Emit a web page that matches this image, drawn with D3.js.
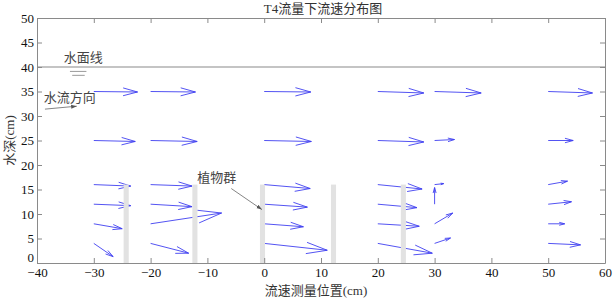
<!DOCTYPE html>
<html>
<head>
<meta charset="utf-8">
<script src="https://cdn.jsdelivr.net/npm/d3@7"></script>
<style>
  body { margin: 0; background: #fff; }
  text { font-family: "Liberation Serif", "Noto Sans CJK SC", serif; }
</style>
</head>
<body>
<div id="chart"></div>
<script>
// measuring stations (cm) and measuring depths (cm)
const stationX = [-30, -20, 0, 20, 30, 50];
const depthY = [35, 25, 16, 12, 8, 4];

// horizontal velocity component, one row per station, one value per depth
const velU = [
  [7.7, 7.3, 6.5, 6.5, 5.0, 3.4],
  [7.9, 8.2, 7.3, 7.3, 12.5, 6.7],
  [8.2, 8.3, 8.1, 7.6, 6.9, 11.1],
  [8.1, 8.1, 7.8, 6.9, 7.3, 9.6],
  [8.2, 3.5, 1.6, 0.0, 3.2, 2.8],
  [7.8, 4.4, 3.4, 4.1, 2.9, 5.7]
];
// vertical velocity component
const velV = [
  [-0.1, -0.2, -0.3, -0.3, -1.0, -2.7],
  [-0.1, -0.2, -0.3, -0.5, 2.2, -2.0],
  [-0.1, -0.2, -0.8, -0.6, -0.6, -1.4],
  [-0.3, -0.3, -0.9, -0.7, -0.5, -2.0],
  [-0.3, 0.2, 0.2, 3.4, 2.2, 1.1],
  [-0.3, 0.0, 0.7, 0.5, 0.0, -0.3]
];

// vegetation stems: centre position (cm) and height (cm)
const plantX = [-24.3, -12.2, -0.3, 12.2, 24.5];
const plantH = 16;
const waterLevel = 40;

const xTicks = [-40, -30, -20, -10, 0, 10, 20, 30, 40, 50, 60];
const yTicks = [0, 5, 10, 15, 20, 25, 30, 35, 40, 45, 50];

const width = 614, height = 300;
const margin = {top: 18, right: 9, bottom: 37, left: 37};

const svg = d3.select("#chart")
  .append("svg")
  .attr("width", width)
  .attr("height", height);

const x = d3.scaleLinear().domain([-40, 60]).range([margin.left, width - margin.right]);
const y = d3.scaleLinear().domain([0, 50]).range([height - margin.bottom, margin.top]);

// velocity arrows (quiver style, open head)
const arrows = [];
stationX.forEach((sx, i) => {
  depthY.forEach((dy, j) => {
    arrows.push({x0: sx, y0: dy, u: velU[i][j], v: velV[i][j]});
  });
});

function arrowPath(x0, y0, x1, y1, a, b) {
  const dx = x1 - x0, dy = y1 - y0;
  const hx1 = x1 - a * (dx + b * dy), hy1 = y1 - a * (dy - b * dx);
  const hx2 = x1 - a * (dx - b * dy), hy2 = y1 - a * (dy + b * dx);
  return `M${x0},${y0}L${x1},${y1}M${hx1},${hy1}L${x1},${y1}L${hx2},${hy2}`;
}

svg.append("g")
  .selectAll("path")
  .data(arrows)
  .enter()
  .append("path")
  .attr("d", d => arrowPath(x(d.x0), y(d.y0), x(d.x0 + d.u), y(d.y0 + d.v), 0.33, 0.27))
  .attr("fill", "none")
  .attr("stroke", "#4040f0")
  .attr("stroke-width", 0.9);

// vegetation bars drawn over the arrows
svg.append("g")
  .selectAll("rect")
  .data(plantX)
  .enter()
  .append("rect")
  .attr("x", d => x(d - 0.45))
  .attr("width", x(0.9) - x(0))
  .attr("y", y(plantH))
  .attr("height", y(0) - y(plantH))
  .attr("fill", "#e2e2e2");

// water surface line
svg.append("line")
  .attr("x1", x(-40)).attr("x2", x(60))
  .attr("y1", y(waterLevel)).attr("y2", y(waterLevel))
  .attr("stroke", "#8a8a8a")
  .attr("stroke-width", 1.2);

// water surface symbol
[[-34.2, -31.3, 39.1], [-33.8, -31.6, 38.3]].forEach(s => {
  svg.append("line")
    .attr("x1", x(s[0])).attr("x2", x(s[1]))
    .attr("y1", y(s[2])).attr("y2", y(s[2]))
    .attr("stroke", "#9a9a9a");
});

// axes, ticks pointing inward on all four sides
const axisColor = "#8a8a8a";
function styleAxis(g) {
  g.select(".domain").attr("stroke", axisColor);
  g.selectAll(".tick line").attr("stroke", axisColor);
  g.selectAll(".tick text").attr("fill", "#111").style("font-size", "13px")
    .style("font-family", "'Liberation Serif', serif");
}

svg.append("g")
  .attr("transform", `translate(0,${y(0)})`)
  .call(d3.axisBottom(x).tickValues(xTicks).tickSize(-5).tickSizeOuter(0).tickPadding(5))
  .call(styleAxis);
svg.append("g")
  .attr("transform", `translate(0,${y(50)})`)
  .call(d3.axisTop(x).tickValues(xTicks).tickSize(-5).tickSizeOuter(0).tickFormat(""))
  .call(styleAxis);
svg.append("g")
  .attr("transform", `translate(${x(-40)},0)`)
  .call(d3.axisLeft(y).tickValues(yTicks).tickSize(-5).tickSizeOuter(0).tickPadding(3))
  .call(styleAxis)
  .call(g => g.selectAll(".tick text").filter(d => d === 0).attr("dy", "-0.15em"));
svg.append("g")
  .attr("transform", `translate(${x(60)},0)`)
  .call(d3.axisRight(y).tickValues(yTicks).tickSize(-5).tickSizeOuter(0).tickFormat(""))
  .call(styleAxis);

// titles
svg.append("text")
  .attr("x", 323).attr("y", 13)
  .attr("text-anchor", "middle")
  .style("font-size", "13px")
  .attr("fill", "#333")
  .text("T4流量下流速分布图");

svg.append("text")
  .attr("x", 316).attr("y", 295)
  .attr("text-anchor", "middle")
  .style("font-size", "13px")
  .attr("fill", "#333")
  .text("流速测量位置(cm)");

svg.append("text")
  .attr("transform", `translate(14,${(y(0) + y(50)) / 2}) rotate(-90)`)
  .attr("text-anchor", "middle")
  .style("font-size", "13px")
  .attr("fill", "#333")
  .text("水深(cm)");

// annotations
svg.append("defs").append("marker")
  .attr("id", "head")
  .attr("viewBox", "0 0 10 10")
  .attr("refX", 10).attr("refY", 5)
  .attr("markerWidth", 7).attr("markerHeight", 7)
  .attr("orient", "auto")
  .append("path")
  .attr("d", "M0,1.5L10,5L0,8.5Z")
  .attr("fill", "#555");

const notes = [
  {text: "水面线", tx: -35.3, ty: 41.0},
  {text: "水流方向", tx: -38.8, ty: 32.8, ax0: -38.6, ay0: 31.4, ax1: -33.0, ay1: 32.0},
  {text: "植物群", tx: -11.8, ty: 16.5, ax0: -5.8, ay0: 15.2, ax1: -0.4, ay1: 10.9}
];

svg.append("g")
  .selectAll("text")
  .data(notes)
  .enter()
  .append("text")
  .attr("x", d => x(d.tx))
  .attr("y", d => y(d.ty))
  .style("font-size", "13px")
  .attr("fill", "#444")
  .text(d => d.text);

svg.append("g")
  .selectAll("line")
  .data(notes.filter(d => d.ax0 !== undefined))
  .enter()
  .append("line")
  .attr("x1", d => x(d.ax0)).attr("y1", d => y(d.ay0))
  .attr("x2", d => x(d.ax1)).attr("y2", d => y(d.ay1))
  .attr("stroke", "#666")
  .attr("stroke-width", 0.8)
  .attr("marker-end", "url(#head)");
</script>
</body>
</html>
